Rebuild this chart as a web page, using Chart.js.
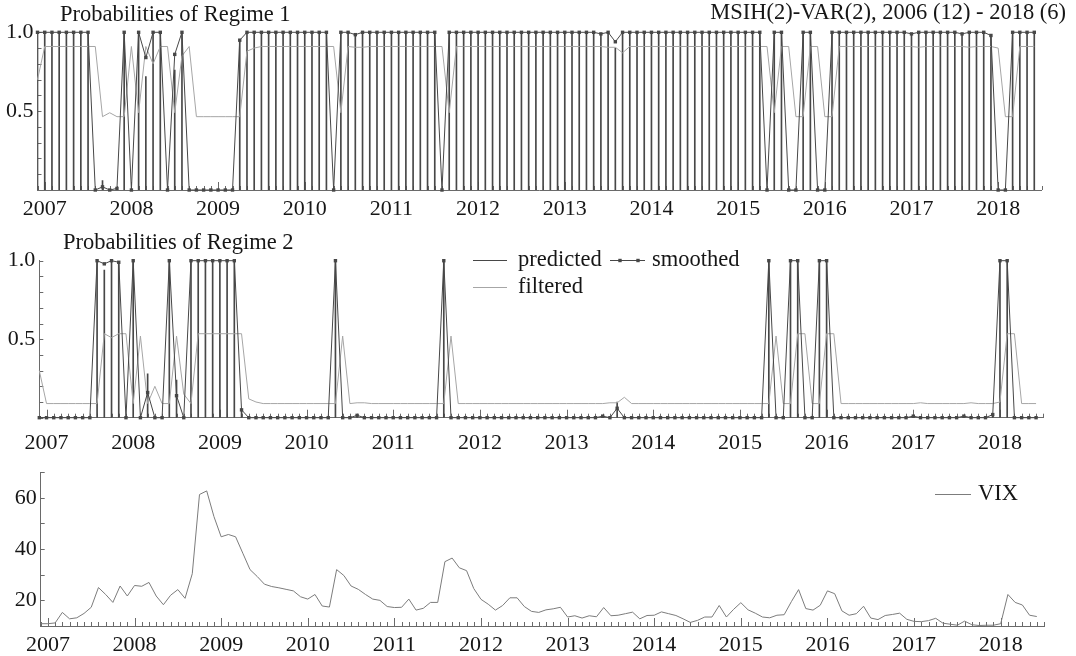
<!DOCTYPE html>
<html>
<head>
<meta charset="utf-8">
<title>MSIH(2)-VAR(2) regime probabilities and VIX</title>
<script src="https://cdn.jsdelivr.net/npm/chart.js@4.4.1/dist/chart.umd.min.js"></script>
<style>
  html, body { margin: 0; padding: 0; background: #fff; }
  #wrap { position: relative; width: 1076px; height: 656px; overflow: hidden; }
  canvas { position: absolute; left: 0; }
</style>
</head>
<body>
<div id="wrap">
  <canvas id="regime1" width="1076" height="225" style="top:0"></canvas>
  <canvas id="regime2" width="1076" height="230" style="top:225px"></canvas>
  <canvas id="vix" width="1076" height="201" style="top:455px"></canvas>
</div>
<script>
// monthly sample 2006(12) - 2018(6)
const startYear = 2006;
const startMonth = 12;
const yearLabels = [2007, 2008, 2009, 2010, 2011, 2012, 2013, 2014, 2015, 2016, 2017, 2018];
const regimeTickLabels = [0.5, 1.0];
const vixTickLabels = [20, 40, 60];

// Regime 1 (one row per year, first value is 2006(12))
const smoothed1 = [
  1,
  1, 1, 1, 1, 1, 1, 1, 0, 0.02, 0, 0.01, 1,
  0, 1, 0.84, 1, 1, 0, 0.86, 1, 0, 0, 0, 0,
  0, 0, 0, 0.95, 1, 1, 1, 1, 1, 1, 1, 1,
  1, 1, 1, 1, 0, 1, 1, 0.985, 1, 1, 1, 1,
  1, 1, 1, 1, 1, 1, 1, 0, 1, 1, 1, 1,
  1, 1, 1, 1, 1, 1, 1, 1, 1, 1, 1, 1,
  1, 1, 1, 1, 1, 0.99, 1, 0.94, 1, 1, 1, 1,
  1, 1, 1, 1, 1, 1, 1, 1, 1, 1, 1, 1,
  1, 1, 1, 1, 0, 1, 1, 0, 0, 1, 1, 0,
  0, 1, 1, 1, 1, 1, 1, 1, 1, 1, 1, 1,
  0.99, 1, 1, 1, 1, 1, 1, 0.99, 1, 1, 1, 0.98,
  0, 0, 1, 1, 1, 1
];
const predicted1 = [
  1,
  1, 1, 1, 1, 1, 1, 1, 0, 0.06, 0, 0.01, 1,
  0, 1, 0.72, 1, 1, 0, 0.76, 1, 0, 0, 0, 0,
  0, 0, 0, 0.95, 1, 1, 1, 1, 1, 1, 1, 1,
  1, 1, 1, 1, 0, 1, 1, 0.985, 1, 1, 1, 1,
  1, 1, 1, 1, 1, 1, 1, 0, 1, 1, 1, 1,
  1, 1, 1, 1, 1, 1, 1, 1, 1, 1, 1, 1,
  1, 1, 1, 1, 1, 0.99, 1, 0.90, 1, 1, 1, 1,
  1, 1, 1, 1, 1, 1, 1, 1, 1, 1, 1, 1,
  1, 1, 1, 1, 0, 1, 1, 0, 0, 1, 1, 0,
  0, 1, 1, 1, 1, 1, 1, 1, 1, 1, 1, 1,
  0.99, 1, 1, 1, 1, 1, 1, 0.99, 1, 1, 1, 0.98,
  0, 0, 1, 1, 1, 1
];
const filtered1 = [
  0.70,
  0.91, 0.91, 0.91, 0.91, 0.91, 0.91, 0.91, 0.91, 0.465, 0.49, 0.465, 0.465,
  0.91, 0.49, 0.91, 0.80, 0.91, 0.91, 0.49, 0.85, 0.91, 0.465, 0.465, 0.465,
  0.465, 0.465, 0.465, 0.465, 0.88, 0.90, 0.91, 0.91, 0.91, 0.91, 0.91, 0.91,
  0.91, 0.91, 0.91, 0.91, 0.91, 0.49, 0.91, 0.905, 0.905, 0.91, 0.91, 0.91,
  0.91, 0.91, 0.91, 0.91, 0.91, 0.91, 0.91, 0.91, 0.49, 0.91, 0.91, 0.91,
  0.91, 0.91, 0.91, 0.91, 0.91, 0.91, 0.91, 0.91, 0.91, 0.91, 0.91, 0.91,
  0.91, 0.91, 0.91, 0.91, 0.91, 0.91, 0.905, 0.905, 0.87, 0.91, 0.91, 0.91,
  0.91, 0.91, 0.91, 0.91, 0.91, 0.91, 0.91, 0.91, 0.91, 0.91, 0.91, 0.91,
  0.91, 0.91, 0.91, 0.91, 0.91, 0.49, 0.91, 0.91, 0.465, 0.465, 0.91, 0.91,
  0.465, 0.465, 0.91, 0.91, 0.91, 0.91, 0.91, 0.91, 0.91, 0.91, 0.91, 0.91,
  0.91, 0.905, 0.91, 0.91, 0.91, 0.91, 0.91, 0.91, 0.905, 0.91, 0.91, 0.91,
  0.90, 0.465, 0.465, 0.91, 0.91, 0.91
];

// Regime 2
const smoothed2 = [
  0,
  0, 0, 0, 0, 0, 0, 0, 1, 0.98, 1, 0.99, 0,
  1, 0, 0.16, 0, 0, 1, 0.14, 0, 1, 1, 1, 1,
  1, 1, 1, 0.05, 0, 0, 0, 0, 0, 0, 0, 0,
  0, 0, 0, 0, 1, 0, 0, 0.015, 0, 0, 0, 0,
  0, 0, 0, 0, 0, 0, 0, 1, 0, 0, 0, 0,
  0, 0, 0, 0, 0, 0, 0, 0, 0, 0, 0, 0,
  0, 0, 0, 0, 0, 0.01, 0, 0.06, 0, 0, 0, 0,
  0, 0, 0, 0, 0, 0, 0, 0, 0, 0, 0, 0,
  0, 0, 0, 0, 1, 0, 0, 1, 1, 0, 0, 1,
  1, 0, 0, 0, 0, 0, 0, 0, 0, 0, 0, 0,
  0.01, 0, 0, 0, 0, 0, 0, 0.01, 0, 0, 0, 0.02,
  1, 1, 0, 0, 0, 0
];
const predicted2 = [
  0,
  0, 0, 0, 0, 0, 0, 0, 1, 0.94, 1, 0.99, 0,
  1, 0, 0.28, 0, 0, 1, 0.24, 0, 1, 1, 1, 1,
  1, 1, 1, 0.05, 0, 0, 0, 0, 0, 0, 0, 0,
  0, 0, 0, 0, 1, 0, 0, 0.015, 0, 0, 0, 0,
  0, 0, 0, 0, 0, 0, 0, 1, 0, 0, 0, 0,
  0, 0, 0, 0, 0, 0, 0, 0, 0, 0, 0, 0,
  0, 0, 0, 0, 0, 0.01, 0, 0.10, 0, 0, 0, 0,
  0, 0, 0, 0, 0, 0, 0, 0, 0, 0, 0, 0,
  0, 0, 0, 0, 1, 0, 0, 1, 1, 0, 0, 1,
  1, 0, 0, 0, 0, 0, 0, 0, 0, 0, 0, 0,
  0.01, 0, 0, 0, 0, 0, 0, 0.01, 0, 0, 0, 0.02,
  1, 1, 0, 0, 0, 0
];
const filtered2 = [
  0.30,
  0.09, 0.09, 0.09, 0.09, 0.09, 0.09, 0.09, 0.09, 0.535, 0.51, 0.535, 0.535,
  0.09, 0.52, 0.09, 0.20, 0.09, 0.09, 0.52, 0.15, 0.09, 0.535, 0.535, 0.535,
  0.535, 0.535, 0.535, 0.535, 0.12, 0.10, 0.09, 0.09, 0.09, 0.09, 0.09, 0.09,
  0.09, 0.09, 0.09, 0.09, 0.09, 0.52, 0.09, 0.095, 0.095, 0.09, 0.09, 0.09,
  0.09, 0.09, 0.09, 0.09, 0.09, 0.09, 0.09, 0.09, 0.52, 0.09, 0.09, 0.09,
  0.09, 0.09, 0.09, 0.09, 0.09, 0.09, 0.09, 0.09, 0.09, 0.09, 0.09, 0.09,
  0.09, 0.09, 0.09, 0.09, 0.09, 0.09, 0.095, 0.095, 0.13, 0.09, 0.09, 0.09,
  0.09, 0.09, 0.09, 0.09, 0.09, 0.09, 0.09, 0.09, 0.09, 0.09, 0.09, 0.09,
  0.09, 0.09, 0.09, 0.09, 0.09, 0.52, 0.09, 0.09, 0.535, 0.535, 0.09, 0.09,
  0.535, 0.535, 0.09, 0.09, 0.09, 0.09, 0.09, 0.09, 0.09, 0.09, 0.09, 0.09,
  0.09, 0.095, 0.09, 0.09, 0.09, 0.09, 0.09, 0.09, 0.095, 0.09, 0.09, 0.09,
  0.10, 0.535, 0.535, 0.09, 0.09, 0.09
];

// VIX, monthly
const vix = [
  10.9,
  10.9, 11.2, 15.3, 12.8, 13.2, 14.9, 17.3, 25.0, 22.3, 19.2, 25.6, 21.7,
  25.8, 25.5, 27.0, 21.7, 18.3, 22.0, 24.2, 20.8, 30.4, 61.3, 62.7, 52.7,
  44.8, 45.7, 44.8, 38.4, 32.0, 29.3, 26.3, 25.4, 24.9, 24.3, 23.7, 21.4,
  20.5, 22.3, 17.8, 17.4, 32.0, 29.7, 25.6, 24.3, 22.3, 20.5, 20.0, 17.6,
  17.2, 17.3, 20.5, 16.2, 16.9, 19.2, 19.2, 35.1, 36.5, 32.7, 31.6, 24.6,
  20.4, 18.5, 16.2, 18.0, 21.0, 21.0, 17.6, 15.7, 15.3, 16.3, 16.7, 17.3,
  13.5, 14.0, 13.1, 14.0, 13.6, 17.2, 14.0, 14.2, 14.8, 15.4, 12.8, 14.1,
  14.2, 15.5, 14.8, 14.1, 12.8, 11.4, 12.2, 13.5, 13.5, 18.0, 13.5, 16.5,
  19.1, 16.3, 15.0, 13.5, 13.2, 14.2, 14.4, 19.5, 24.2, 16.8, 16.2, 18.1,
  23.7, 22.6, 15.9, 14.2, 14.8, 17.7, 13.1, 12.5, 14.1, 14.5, 15.0, 12.6,
  11.8, 11.7, 12.1, 13.0, 11.1, 10.7, 10.3, 11.9, 10.5, 10.2, 10.3, 10.3,
  10.9, 22.3, 19.2, 18.2, 14.2, 13.7
];

const FONT = '"Liberation Serif", "Times New Roman", serif';
const DARK = '#474747';
const LIGHT = '#a6a6a6';
const VIXCOL = '#7c7c7c';
const AXIS = '#6a6a6a';
const TEXT = '#161616';
const axisEnd = 2018.5;

function monthValue(i) {
  return startYear + (startMonth - 1 + i) / 12;
}

function xy(values) {
  return values.map((v, i) => ({ x: monthValue(i), y: v }));
}

// texts and legend samples of each panel, in canvas pixels
const panelTexts = {
  regime1: [
    { text: 'Probabilities of Regime 1', x: 60, y: 15 },
    { text: 'MSIH(2)-VAR(2), 2006 (12) - 2018 (6)', x: 1066, y: 13, align: 'right' }
  ],
  regime2: [
    { text: 'Probabilities of Regime 2', x: 63, y: 18 },
    { line: [473, 507], y: 35, color: DARK },
    { text: 'predicted', x: 518, y: 35 },
    { line: [610, 645], y: 35, color: DARK, marks: [620, 638] },
    { text: 'smoothed', x: 652, y: 35 },
    { line: [473, 507], y: 62, color: LIGHT },
    { text: 'filtered', x: 518, y: 62 }
  ],
  vix: [
    { line: [935, 971], y: 39, color: VIXCOL },
    { text: 'VIX', x: 978, y: 39 }
  ]
};

const panelText = {
  id: 'panelText',
  afterDraw(chart) {
    const ctx = chart.ctx;
    const items = panelTexts[chart.canvas.id] || [];
    ctx.save();
    items.forEach(it => {
      if (it.text) {
        ctx.font = '22.5px ' + FONT;
        ctx.fillStyle = TEXT;
        ctx.textAlign = it.align || 'left';
        ctx.textBaseline = 'middle';
        ctx.fillText(it.text, it.x, it.y);
      } else {
        ctx.strokeStyle = it.color;
        ctx.lineWidth = 1;
        ctx.beginPath();
        ctx.moveTo(it.line[0], it.y + 0.5);
        ctx.lineTo(it.line[1], it.y + 0.5);
        ctx.stroke();
        ctx.fillStyle = it.color;
        (it.marks || []).forEach(mx => ctx.fillRect(mx - 1.7, it.y - 1.2, 3.4, 3.4));
      }
    });
    ctx.restore();
  }
};

// small inward ticks: months / years on x, every step on y
const inwardTicks = {
  id: 'inwardTicks',
  beforeDatasetsDraw(chart) {
    const { ctx, scales: { x, y } } = chart;
    ctx.save();
    ctx.strokeStyle = AXIS;
    ctx.lineWidth = 1;
    ctx.beginPath();
    for (let k = 0; monthValue(k) <= x.max + 1e-9; k++) {
      const px = Math.round(x.getPixelForValue(monthValue(k))) + 0.5;
      const major = (startMonth - 1 + k) % 12 === 0;
      ctx.moveTo(px, y.bottom);
      ctx.lineTo(px, y.bottom - (major ? 8 : 4));
    }
    y.ticks.forEach(t => {
      const py = Math.round(y.getPixelForValue(t.value)) + 0.5;
      ctx.moveTo(x.left, py);
      ctx.lineTo(x.left + 4, py);
    });
    ctx.stroke();
    ctx.restore();
  }
};

function xScale(box) {
  return {
    type: 'linear',
    min: monthValue(0),
    max: axisEnd,
    offset: false,
    afterFit: s => { s.height = box.height - box.bottom; },
    grid: { display: false, drawTicks: false, offset: false },
    border: { display: true, color: AXIS, width: 1 },
    ticks: {
      stepSize: 1,
      includeBounds: false,
      autoSkip: false,
      maxRotation: 0,
      padding: box.labelPad,
      color: TEXT,
      font: { family: FONT, size: 22 },
      callback: v => {
        const r = Math.round(v);
        return Math.abs(v - r) < 1e-6 && yearLabels.includes(r) ? String(r) : '';
      }
    }
  };
}

function yScale(box, min, max, step, labels, digits) {
  return {
    type: 'linear',
    min: min,
    max: max,
    afterFit: s => { s.width = box.left; },
    grid: { display: false, drawTicks: false },
    border: { display: true, color: AXIS, width: 1 },
    ticks: {
      stepSize: step,
      autoSkip: false,
      padding: 4,
      color: TEXT,
      font: { family: FONT, size: 22 },
      callback: v => labels.some(t => Math.abs(t - v) < 1e-6) ? v.toFixed(digits) : ''
    }
  };
}

function baseOptions(box) {
  return {
    responsive: false,
    animation: false,
    events: [],
    layout: { padding: { left: 0, right: 1076 - box.right, top: box.top, bottom: 0 } },
    plugins: { legend: { display: false }, tooltip: { enabled: false }, title: { display: false } }
  };
}

function regimeChart(id, smoothed, predicted, filtered, box) {
  const options = baseOptions(box);
  options.scales = {
    x: xScale(box),
    y: yScale(box, 0, 1, 0.1, regimeTickLabels, 1)
  };
  return new Chart(document.getElementById(id), {
    type: 'line',
    data: {
      datasets: [
        {
          type: 'bar',
          label: 'predicted',
          data: xy(predicted),
          backgroundColor: DARK,
          borderWidth: 0,
          barThickness: 1,
          order: 3
        },
        {
          label: 'filtered',
          data: xy(filtered),
          borderColor: LIGHT,
          borderWidth: 1,
          pointRadius: 0,
          tension: 0,
          clip: false,
          order: 2
        },
        {
          label: 'smoothed',
          data: xy(smoothed),
          borderColor: DARK,
          backgroundColor: DARK,
          borderWidth: 1,
          pointStyle: 'rect',
          pointRadius: 2.4,
          pointBorderWidth: 0,
          tension: 0,
          clip: false,
          order: 1
        }
      ]
    },
    options: options,
    plugins: [inwardTicks, panelText]
  });
}

Chart.defaults.font.family = FONT;

regimeChart('regime1', smoothed1, predicted1, filtered1,
  { left: 37.5, right: 1041.5, top: 32.3, bottom: 190, height: 225, labelPad: 6 });
regimeChart('regime2', smoothed2, predicted2, filtered2,
  { left: 39.3, right: 1043.3, top: 35.7, bottom: 192.7, height: 230, labelPad: 12 });

const vixBox = { left: 40.7, right: 1044, top: 15, bottom: 171, height: 201, labelPad: 6 };
const vixOptions = baseOptions(vixBox);
vixOptions.scales = {
  x: xScale(vixBox),
  y: yScale(vixBox, 10, 70, 10, vixTickLabels, 0)
};
new Chart(document.getElementById('vix'), {
  type: 'line',
  data: {
    datasets: [{
      label: 'VIX',
      data: xy(vix),
      borderColor: VIXCOL,
      borderWidth: 1,
      pointRadius: 0,
      tension: 0,
      clip: false
    }]
  },
  options: vixOptions,
  plugins: [inwardTicks, panelText]
});
</script>
</body>
</html>
